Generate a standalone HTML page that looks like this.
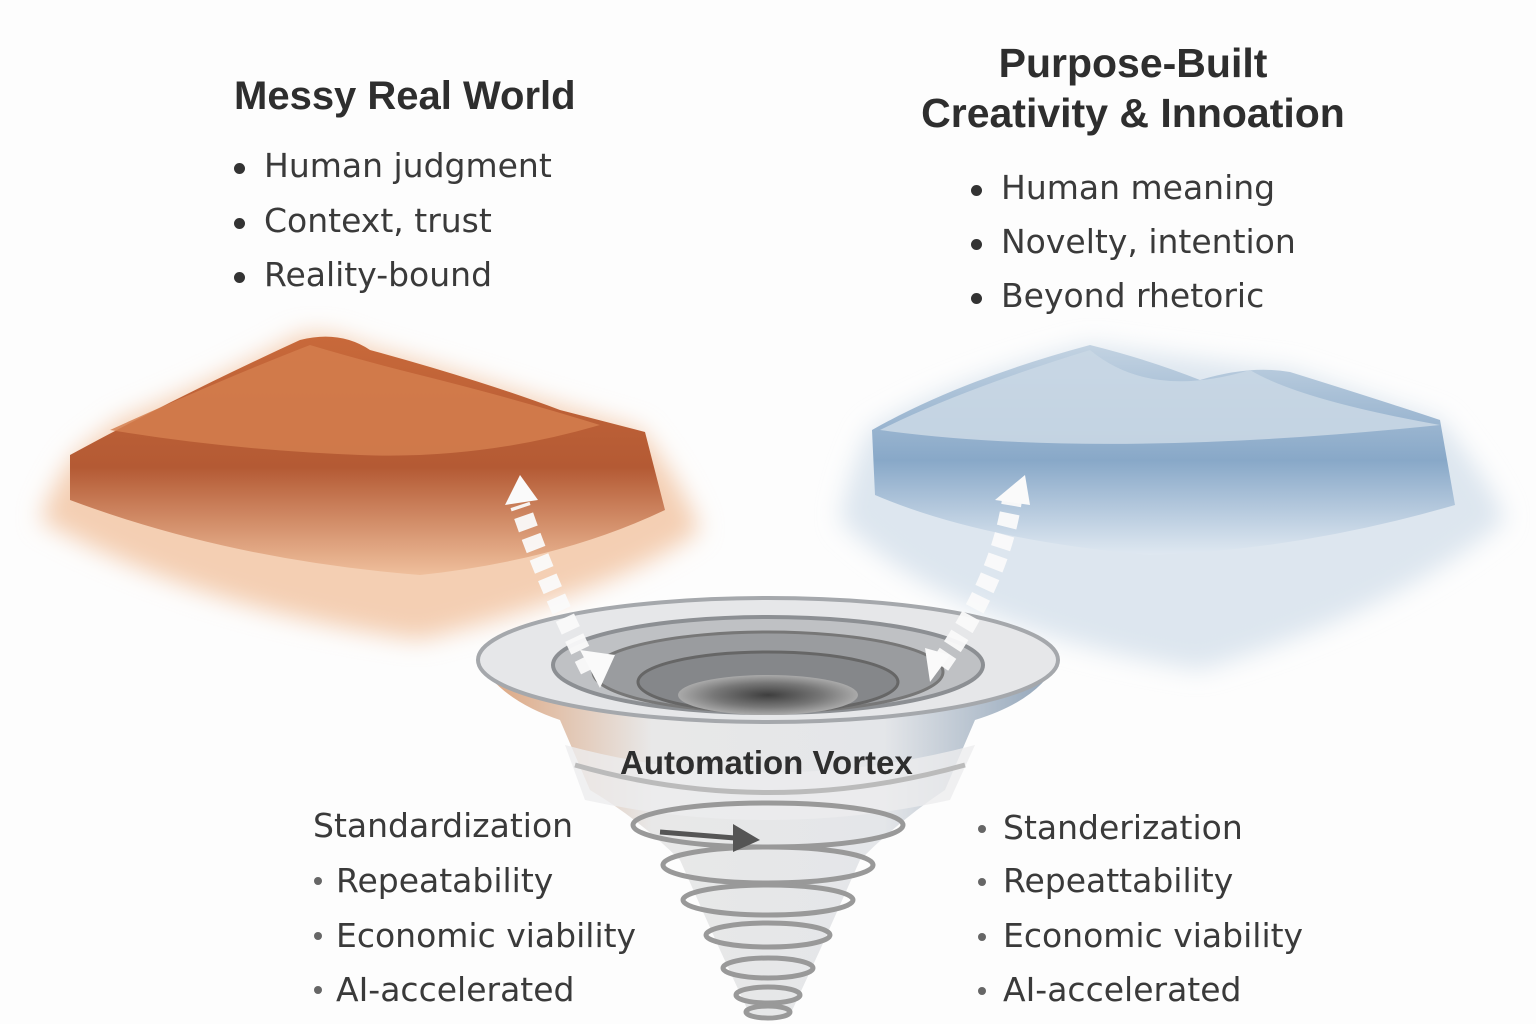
<!DOCTYPE html>
<html><head><meta charset="utf-8"><style>
html,body{margin:0;padding:0;background:#fdfdfd;}
body{width:1536px;height:1024px;position:relative;overflow:hidden;font-family:"Liberation Sans",sans-serif;color:#333;}
.t{position:absolute;white-space:nowrap;}
.h{font-weight:bold;font-size:40px;color:#2e2e2e;}
.b{font-family:"DejaVu Sans",sans-serif;font-size:33px;color:#3a3a3a;}
.d{position:absolute;width:11px;height:11px;border-radius:50%;background:#333;}
.s{position:absolute;width:8px;height:8px;border-radius:50%;background:#666;}
</style></head><body>
<svg width="1536" height="1024" style="position:absolute;left:0;top:0">
<defs>
<filter id="blur"><feGaussianBlur stdDeviation="12"/></filter>
<linearGradient id="og" x1="0" y1="0" x2="0" y2="1"><stop offset="0" stop-color="#c8693a"/><stop offset="0.55" stop-color="#b45a34"/><stop offset="1" stop-color="#efbf9c"/></linearGradient>
<linearGradient id="bg" x1="0" y1="0" x2="0" y2="1"><stop offset="0" stop-color="#c3d3e2"/><stop offset="0.55" stop-color="#88a8c8"/><stop offset="1" stop-color="#dfe8f1"/></linearGradient>
<linearGradient id="fun" x1="0" y1="0" x2="1" y2="0"><stop offset="0" stop-color="#dca27a"/><stop offset="0.3" stop-color="#e8e8e8"/><stop offset="0.7" stop-color="#e4e6e9"/><stop offset="1" stop-color="#8fa3b8"/></linearGradient>
<radialGradient id="hole"><stop offset="0" stop-color="#3e3e3e"/><stop offset="0.6" stop-color="#777"/><stop offset="1" stop-color="#aaa"/></radialGradient>
</defs>
<path d="M40,520 Q60,470 80,450 L120,420 Q220,380 300,335 Q330,330 360,345 Q450,370 540,400 L640,430 Q680,480 700,530 Q620,590 420,640 Q200,610 40,520Z" fill="#f4cfb3" filter="url(#blur)"/>
<path d="M70,455 Q180,395 300,340 Q340,330 370,350 Q480,380 560,410 L645,432 L665,510 Q560,560 420,575 Q230,560 70,500Z" fill="url(#og)"/>
<path d="M110,430 Q220,380 310,345 Q360,360 420,375 Q520,400 600,425 Q480,460 360,455 Q230,450 110,430Z" fill="#d37e4d" opacity="0.85"/>
<path d="M840,520 Q850,470 870,430 Q950,380 1090,345 Q1200,360 1290,370 L1440,420 Q1490,480 1505,520 Q1400,610 1200,670 Q950,630 840,520Z" fill="#dde6ef" filter="url(#blur)"/>
<path d="M872,430 Q960,380 1090,345 Q1150,360 1200,380 Q1250,365 1290,372 Q1380,400 1440,420 L1455,505 Q1300,550 1150,555 Q980,540 875,495Z" fill="url(#bg)"/>
<path d="M880,430 Q1100,460 1440,425 Q1300,400 1250,370 Q1150,400 1090,350 Q960,390 880,430Z" fill="#c9d7e4" opacity="0.9"/>
<path d="M478,660 Q500,700 560,720 L590,790 Q640,820 680,860 L720,950 L750,1015 L790,1015 L820,950 L860,860 Q900,820 945,790 L975,720 Q1040,700 1058,660Z" fill="url(#fun)"/>
<path d="M565,745 Q768,800 975,745 L950,800 Q768,840 585,800Z" fill="#ececee" opacity="0.8"/>
<g fill="none" stroke="#999" stroke-width="5">
<path d="M575,765 Q768,820 965,765" stroke="#bbb"/>
<ellipse cx="768" cy="825" rx="135" ry="22"/>
<ellipse cx="768" cy="865" rx="105" ry="18"/>
<ellipse cx="768" cy="900" rx="85" ry="15"/>
<ellipse cx="768" cy="935" rx="62" ry="12"/>
<ellipse cx="768" cy="968" rx="45" ry="10"/>
<ellipse cx="768" cy="995" rx="32" ry="8"/>
<ellipse cx="768" cy="1012" rx="22" ry="6"/>
</g>
<ellipse cx="768" cy="660" rx="290" ry="62" fill="#e6e7e9" stroke="#a5a8ac" stroke-width="4"/>
<ellipse cx="768" cy="665" rx="215" ry="48" fill="#bfc1c4" stroke="#8c8f93" stroke-width="4"/>
<ellipse cx="768" cy="672" rx="175" ry="40" fill="#9a9c9f" stroke="#777" stroke-width="3"/>
<ellipse cx="768" cy="682" rx="130" ry="30" fill="#85878a" stroke="#666" stroke-width="3"/>
<ellipse cx="768" cy="695" rx="90" ry="20" fill="url(#hole)"/>
<path d="M660,832 L735,838" stroke="#555" stroke-width="5"/>
<path d="M733,824 L760,840 L733,852Z" fill="#555"/>
<g stroke="#fafafa" stroke-width="20" fill="none" stroke-dasharray="14 8" opacity="0.95">
<path d="M590,670 Q545,580 520,505"/>
<path d="M940,665 Q1000,580 1012,500"/>
</g>
<path d="M505,505 L520,475 L538,500Z" fill="#fafafa"/>
<path d="M995,500 L1025,475 L1030,505Z" fill="#fafafa"/>
<path d="M580,650 L600,688 L615,655Z" fill="#fafafa"/>
<path d="M925,648 L930,682 L950,655Z" fill="#fafafa"/>
</svg>
<div class="t h" style="left:234px;top:74px;">Messy Real World</div>
<div class="d" style="left:234px;top:163px"></div><div class="t b" style="left:264px;top:146px;">Human judgment</div>
<div class="d" style="left:234px;top:218px"></div><div class="t b" style="left:264px;top:201px;">Context, trust</div>
<div class="d" style="left:234px;top:272px"></div><div class="t b" style="left:264px;top:255px;">Reality-bound</div>
<div class="t h" style="left:900px;top:38px;width:466px;text-align:center;line-height:50px;font-size:41px;">Purpose-Built<br>Creativity &amp; Innoation</div>
<div class="d" style="left:971px;top:185px"></div><div class="t b" style="left:1001px;top:168px;">Human meaning</div>
<div class="d" style="left:971px;top:239px"></div><div class="t b" style="left:1001px;top:222px;">Novelty, intention</div>
<div class="d" style="left:971px;top:293px"></div><div class="t b" style="left:1001px;top:276px;">Beyond rhetoric</div>
<div class="t" style="left:620px;top:744px;font-weight:bold;font-size:33px;color:#2e2e2e;">Automation Vortex</div>
<div class="t b" style="left:313px;top:806px;">Standardization</div>
<div class="s" style="left:314px;top:877px"></div><div class="t b" style="left:336px;top:861px;">Repeatability</div>
<div class="s" style="left:314px;top:932px"></div><div class="t b" style="left:336px;top:916px;">Economic viability</div>
<div class="s" style="left:314px;top:986px"></div><div class="t b" style="left:336px;top:970px;">AI-accelerated</div>
<div class="s" style="left:978px;top:825px"></div><div class="t b" style="left:1003px;top:808px;">Standerization</div>
<div class="s" style="left:978px;top:878px"></div><div class="t b" style="left:1003px;top:861px;">Repeattability</div>
<div class="s" style="left:978px;top:933px"></div><div class="t b" style="left:1003px;top:916px;">Economic viability</div>
<div class="s" style="left:978px;top:987px"></div><div class="t b" style="left:1003px;top:970px;">AI-accelerated</div>
</body></html>
